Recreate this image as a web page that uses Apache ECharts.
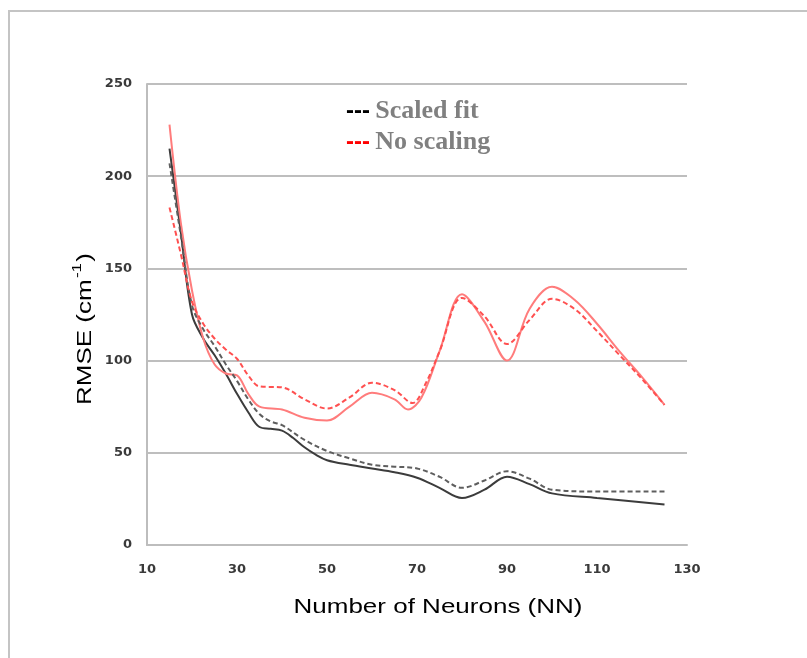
<!DOCTYPE html>
<html>
<head>
<meta charset="utf-8">
<script src="https://cdn.jsdelivr.net/npm/echarts@6/dist/echarts.min.js"></script>
<style>
html,body{margin:0;padding:0;background:#fff;}
#chart{width:807px;height:658px;}
</style>
</head>
<body>
<div id="chart"></div>
<script>
// ---- data ----
const xTicks = [10, 30, 50, 70, 90, 110, 130];
const yTicks = [0, 50, 100, 150, 200, 250];

const scaledSolid = [[15,215],[17.5,170],[20,125],[22.5,112],[25,103],[27.5,93],[30,82],[32.5,72],[35,64],[37.5,63],[40,62],[42.5,58],[45,53],[47.5,49],[50,46],[55,43.5],[60,41.5],[65,39.5],[70,36.5],[75,31],[80,25.5],[85,30],[90,37],[95,33],[100,28],[110,25.5],[125,22]];
const scaledDashed = [[15,207],[17.5,168],[20,130],[22.5,117],[25,108],[27.5,98],[30,89],[32.5,79],[35,71],[37.5,67],[40,65],[45,57],[50,51],[55,47],[60,43.5],[65,42.5],[70,41.5],[75,37],[80,31],[85,35],[90,40],[95,36],[100,30],[110,29],[125,29]];
const noScaleSolid = [[15,228],[17.5,175],[20,138],[22.5,112],[25,98],[27.5,93],[30,92],[32.5,82],[35,75],[40,73.5],[45,69],[50,67.5],[55,75],[60,82.5],[65,79],[68,73.5],[71,80],[75,105],[80,136],[85,121],[90,100],[95,128],[100,140],[105,133],[110,120],[115,105],[120,91],[125,76]];
const noScaleDashed = [[15,183],[17.5,158],[20,132],[22.5,120],[25,112],[27.5,106],[30,101],[32.5,92],[35,86],[40,85.5],[45,79],[50,74],[55,80],[60,88],[65,84],[69,77],[72,88],[75,105],[80,134],[85,124],[90,109],[95,122],[100,133.5],[105,128],[110,116],[115,103],[120,90],[125,76]];

const legendNames = ['Scaled fit', 'No scaling'];
const xTitle = 'Number of Neurons (NN)';

const chart = echarts.init(document.getElementById('chart'), null, {renderer: 'canvas'});

function line(name, data, color, dashed) {
  return {
    name: name, type: 'line', data: data, smooth: 0.35, symbol: 'none',
    lineStyle: {color: color, width: 2, type: dashed ? [5, 3] : 'solid'},
    z: dashed ? 3 : 2
  };
}

chart.setOption({
  animation: false,
  backgroundColor: '#ffffff',
  grid: {left: 147, right: 120, top: 84, bottom: 113, containLabel: false},
  xAxis: {
    type: 'value', min: xTicks[0], max: xTicks[xTicks.length - 1], interval: 20,
    axisLine: {show: true, lineStyle: {color: '#bdbdbd', width: 2}},
    axisTick: {show: false},
    splitLine: {show: false},
    axisLabel: {margin: 18, color: '#3a3a3a', fontFamily: 'DejaVu Sans', fontWeight: 'bold', fontSize: 13}
  },
  yAxis: {
    type: 'value', min: yTicks[0], max: yTicks[yTicks.length - 1], interval: 50,
    axisLine: {show: true, lineStyle: {color: '#bdbdbd', width: 2}},
    axisTick: {show: false},
    splitLine: {show: true, lineStyle: {color: '#a8a8a8', width: 1.5}},
    axisLabel: {margin: 15, color: '#3a3a3a', fontFamily: 'DejaVu Sans', fontWeight: 'bold', fontSize: 13}
  },
  series: [
    line(legendNames[0], scaledSolid, '#3c3c3c', false),
    line(legendNames[0] + ' (dashed)', scaledDashed, '#5e5e5e', true),
    line(legendNames[1], noScaleSolid, '#ff7c7c', false),
    line(legendNames[1] + ' (dashed)', noScaleDashed, '#ff5050', true)
  ],
  graphic: [
    {type: 'polyline', shape: {points: [[9, 658], [9, 11], [807, 11]]}, style: {stroke: '#c4c4c4', lineWidth: 2, fill: null}, silent: true},
    {type: 'text', left: 346, top: 98, style: {
      text: '{k|---} {t|' + legendNames[0] + '}',
      rich: {k: {fill: '#000', font: 'bold 24px "Liberation Sans"', padding: [0, 2, 0, 0]}, t: {fill: '#808080', font: 'bold 26px "Liberation Serif"'}}
    }},
    {type: 'text', left: 346, top: 129, style: {
      text: '{k|---} {t|' + legendNames[1] + '}',
      rich: {k: {fill: '#ff0000', font: 'bold 24px "Liberation Sans"', padding: [0, 2, 0, 0]}, t: {fill: '#808080', font: 'bold 26px "Liberation Serif"'}}
    }},
    {type: 'text', x: 438, y: 607, scaleX: 1.3, scaleY: 1.05, style: {
      text: xTitle, fill: '#000', font: '20px "Liberation Sans"', align: 'center', verticalAlign: 'middle'
    }},
    {type: 'text', x: 83, y: 329, rotation: Math.PI / 2, scaleX: 1.3, scaleY: 1.05, style: {
      text: '{a|RMSE (cm}{s|-1}{a|)}', align: 'center', verticalAlign: 'middle',
      rich: {a: {fill: '#000', font: '20px "Liberation Sans"', lineHeight: 24, verticalAlign: 'bottom'},
             s: {fill: '#000', font: '13px "Liberation Sans"', lineHeight: 24, verticalAlign: 'top', padding: [0, 1, 0, 1]}}
    }}
  ]
});
</script>
</body>
</html>
